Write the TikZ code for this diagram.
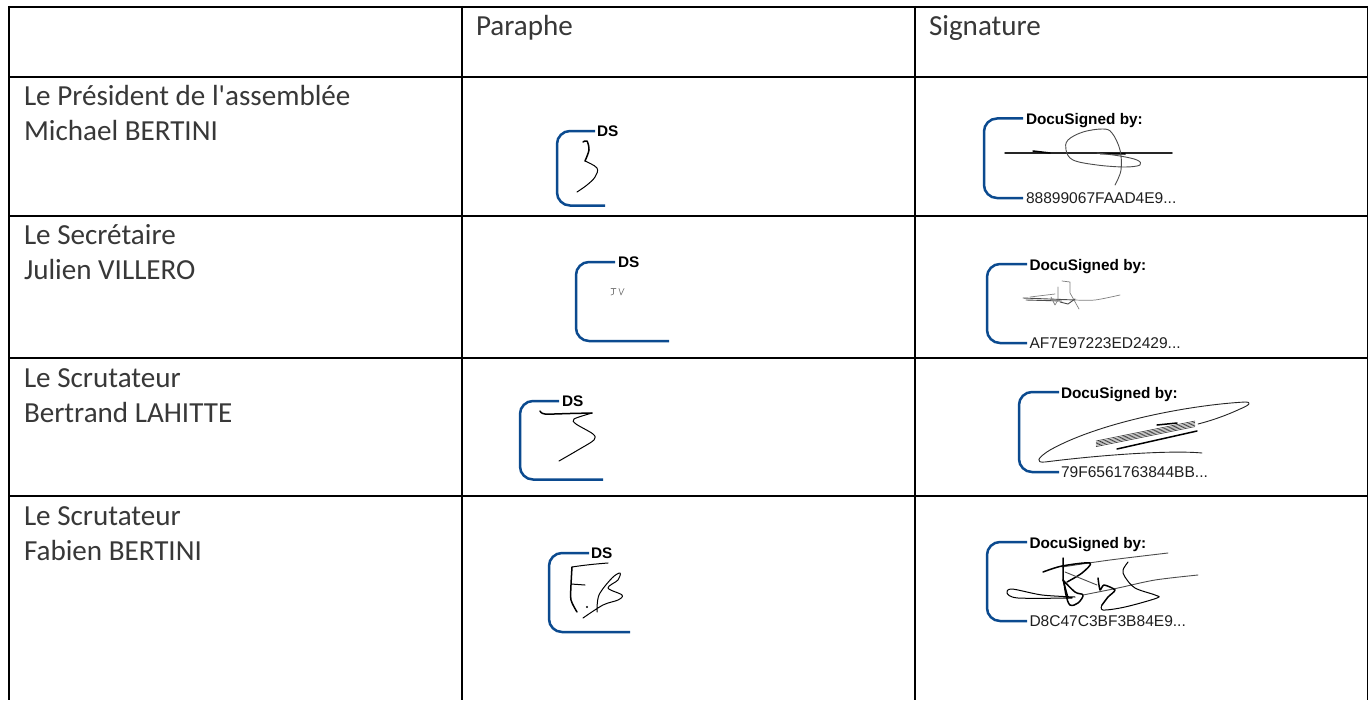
\documentclass[tikz,border=0pt]{standalone}
\usepackage{fontspec}
\setmainfont{Carlito}[Ligatures=TeXOff]
\newfontfamily\dsfont{Liberation Sans}
\definecolor{dsblue}{HTML}{0B4A8F}
\tikzset{
 x=1bp,y=-1bp,
 grid/.style={black,line width=2.2bp},
 cell/.style={anchor=base west,inner sep=0pt,outer sep=0pt,font=\fontsize{29.2}{29.2}\selectfont,text=black!78},
 hint/.style={anchor=base west,inner sep=0pt,outer sep=0pt,font=\dsfont\bfseries\fontsize{15.4}{15.4}\selectfont},
 hash/.style={anchor=base west,inner sep=0pt,outer sep=0pt,font=\dsfont\fontsize{15.6}{15.6}\selectfont,text=black!88},
 bracket/.style={dsblue,line width=2.5bp,rounded corners=13bp},
 ink/.style={black,line width=1bp,line cap=round,line join=round},
 thick ink/.style={black,line width=1.5bp,line cap=round,line join=round},
 grey ink/.style={black!70,line width=.9bp,line cap=round,line join=round},
 faint ink/.style={black!50,line width=.7bp,line cap=round,line join=round},
}
\begin{document}
\begin{tikzpicture}
\useasboundingbox (0,0) rectangle (1368,700);
\fill[white] (0,0) rectangle (1368,700);
% grid
\draw[grid] (9,7) -- (1368,7);
\foreach \yy in {77,216,358,496} \draw[grid] (9,\yy) -- (1368,\yy);
\foreach \xx in {9,462,915} \draw[grid] (\xx,6) -- (\xx,700);
\draw[grid,line width=1.4bp] (1367.4,6) -- (1367.4,700);
% text
\node[cell] (h1) at (476,36) {Paraphe};
\node[cell] (h2) at (929,36) {Signature};
\node[cell] (a1) at (24,106) {Le Président de l'assemblée};
\node[cell] (a2) at (24,140) {Michael BERTINI};
\node[cell] (b1) at (24,244) {Le Secrétaire};
\node[cell] (b2) at (24,279) {Julien VILLERO};
\node[cell] (c1) at (24,387) {Le Scrutateur};
\node[cell] (c2) at (24,422) {Bertrand LAHITTE};
\node[cell] (d1) at (24,525) {Le Scrutateur};
\node[cell] (d2) at (24,560) {Fabien BERTINI};
% Paraphe 1
\draw[bracket] (595,131) -- (557,131) -- (557,205.5) -- (605,205.5);
\node[hint] (p1) at (597,136.5) {DS};
\draw[thick ink] plot[smooth,tension=.5] coordinates {(583,142) (587,141) (589,150) (585,161)};
\draw[ink] plot[smooth,tension=.6] coordinates {(585,161) (597,168) (595,177) (587,185) (577,192)};
% Paraphe 2
\draw[bracket] (615,262) -- (576,262) -- (576,341) -- (669,341);
\node[hint] (p2) at (618,267.5) {DS};
\draw[faint ink] (611,288.5) -- (616,288.5) (613.5,288.5) -- (613.5,294) -- (611,295) (619,288.5) -- (621,295) -- (624,288.5);
% Paraphe 3
\draw[bracket] (559,401) -- (520,401) -- (520,479.5) -- (603,479.5);
\node[hint] (p3) at (562,406.5) {DS};
\draw[thick ink] plot[smooth,tension=.5] coordinates {(540,411) (545,414) (570,413.5) (592,413)};
\draw[ink] plot[smooth,tension=.5] coordinates {(592,413) (574,419) (576,424) (593,434) (594,440) (578,450) (559,461)};
% Paraphe 4
\draw[bracket] (589,553) -- (549,553) -- (549,632) -- (630,632);
\node[hint] (p4) at (591,558.5) {DS};
\draw[ink] (572,567) .. controls (585,565) and (595,564) .. (608,563);
\draw[thick ink] plot[smooth,tension=.5] coordinates {(572,567) (571,585) (571,600) (577,612)};
\draw[ink] (571,584) -- (585,585);
\fill (587,607) circle (1.2bp);
\draw[ink] plot[smooth,tension=.55] coordinates {(583,618) (603,605) (618,600) (622,595) (608,588) (618,580) (620,573) (612,578) (599,595) (597,612)};
% Signature 1
\draw[bracket] (1023,118.5) -- (984,118.5) -- (984,198) -- (1023,198);
\node[hint] (s1) at (1026,124.5) {DocuSigned by:};
\node[hash] (t1) at (1026,203.5) {88899067FAAD4E9...};
\draw[ink,line width=1.5bp,black!85] (1005,153) -- (1172,153);
\draw[thick ink] (1033,151) -- (1050,153);
\draw[thick ink] (1100,153.5) -- (1125,154);
\draw[grey ink] plot[smooth,tension=.6] coordinates {(1115,185) (1121,170) (1120,150) (1112,133) (1103,129) (1083,132) (1068,140) (1066,150) (1073,160) (1097,165) (1125,167) (1140,165) (1137,160) (1120,156) (1097,153)};
% Signature 2
\draw[bracket] (1027,264) -- (987,264) -- (987,343) -- (1027,343);
\node[hint] (s2) at (1029.5,270.5) {DocuSigned by:};
\node[hash] (t2) at (1029.5,348.5) {AF7E97223ED2429...};
\draw[grey ink] (1023,298) -- (1075,300);
\draw[grey ink] (1026,300) -- (1062,301);
\draw[faint ink] (1030,297) -- (1055,294);
\draw[faint ink] plot[smooth,tension=.5] coordinates {(1075,300) (1095,300) (1120,295)};
\draw[faint ink] (1062,281) -- (1070,282) -- (1070,293) -- (1074,300) -- (1079,309);
\draw[faint ink] (1058,287) -- (1058,300) -- (1055,305) -- (1051,297);
\draw[grey ink] (1060,302) -- (1068,304) -- (1075,299);
% Signature 3
\draw[bracket] (1059,392) -- (1019,392) -- (1019,472) -- (1059,472);
\node[hint] (s3) at (1061,398.5) {DocuSigned by:};
\node[hash] (t3) at (1061,477.5) {79F6561763844BB...};
\draw[grey ink,black!85] (1202,453) .. controls (1170,450) and (1100,455) .. (1045,462) .. controls (1035,463) and (1037,458) .. (1050,450) .. controls (1100,422) and (1190,405) .. (1245,402) .. controls (1252,402) and (1250,405) .. (1240,409) .. controls (1225,416) and (1210,421) .. (1198,424);
\foreach \dd in {0,1.4,2.8,4.2,5.6}
  \draw[black!80,line width=.6bp] (1096,{441+\dd}) -- (1195,{421+\dd});
\draw[thick ink] (1157,425) -- (1177,423);
\draw[thick ink] (1117,449) -- (1197,431);
% Signature 4
\draw[bracket] (1027,542) -- (987,542) -- (987,621) -- (1027,621);
\node[hint] (s4) at (1029.5,548.5) {DocuSigned by:};
\node[hash] (t4) at (1029.5,626.5) {D8C47C3BF3B84E9...};
\draw[grey ink] plot[smooth] coordinates {(1062,567) (1110,560) (1168,553)};
\draw[thick ink] plot[smooth,tension=.5] coordinates {(1043,572) (1062,566) (1090,563) (1082,573) (1067,582)};
\draw[thick ink] (1063,558) -- (1063,580) -- (1068,598);
\draw[thick ink] plot[smooth,tension=.6] coordinates {(1063,580) (1075,592) (1083,595) (1078,603) (1070,605) (1066,595) (1064,582)};
\draw[ink] plot[smooth,tension=.5] coordinates {(1075,597) (1042,595) (1012,589) (1007,593) (1018,598) (1072,598)};
\draw[grey ink] (1065,572) -- (1097,585);
\draw[grey ink] plot[smooth,tension=.5] coordinates {(1083,595) (1118,588) (1155,580) (1198,575)};
\draw[thick ink] plot[smooth,tension=.4] coordinates {(1098,578) (1100,590) (1104,585) (1115,590) (1108,597) (1102,605)};
\draw[ink] plot[smooth,tension=.55] coordinates {(1102,605) (1103,610) (1125,607) (1157,598) (1155,595) (1135,588) (1125,577) (1123,570) (1128,562)};
\end{tikzpicture}
\end{document}
